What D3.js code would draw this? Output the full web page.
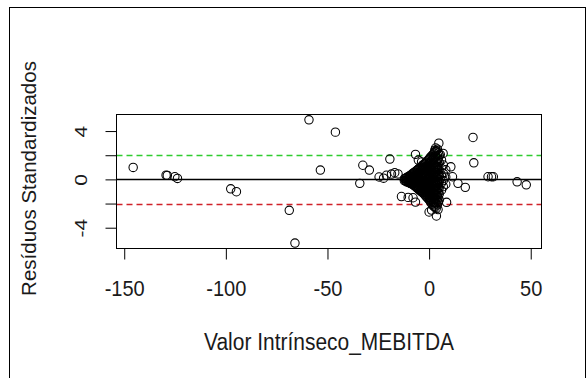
<!DOCTYPE html>
<html><head><meta charset="utf-8">
<script src="https://cdn.jsdelivr.net/npm/d3@7"></script>
<style>
body{margin:0;background:#fff}
text{font-family:"Liberation Sans",Arial,sans-serif;fill:#1a1a1a}
</style>
</head><body>
<svg id="chart" width="588" height="378"></svg>
<script>
// ---- data ----
const xTicks = [-150, -100, -50, 0, 50];
const xTickLabels = ["-150", "-100", "-50", "0", "50"];
const yTicks = [-4, -2, 0, 2, 4];
const yTickLabels = ["-4", "", "0", "", "4"];
const xLabel = "Valor Intrínseco_MEBITDA";
const yLabel = "Resíduos Standardizados";
const refLevels = [0, 2, -2];
const refColors = ["#000000", "#2fcc2f", "#d0222a"];

const fitted = [
  -145.6, -129.4, -128.8, -125.1, -123.8, -97.6, -94.8, -68.8, -66.0, -59.1,
  -46.1, -53.5, -34.1, -32.6, -29.4, -19.3, -24.6, -22.4, -21.0, -18.5,
  -16.9, -15.3, -13.6, -7.9, -6.7, -6.7, 4.8, 21.6, 22.0, 10.7,
  11.5, 14.2, 17.8, 8.6, 0.0, 3.6, 4.4, 29.0, 30.7, 31.6,
  43.3, 47.8, -10.3, 2.8, 6.9, 1.2, -3.7, -5.3, 3.2, 5.5,
  -12.2, -12.2,
  -11.1, -11.1, -11.1,
  -10.0, -10.0, -10.0,
  -9.1, -9.1, -9.1, -9.1,
  -8.0, -8.0, -8.0, -8.0,
  -7.1, -7.1, -7.1, -7.1, -7.1,
  -6.0, -6.0, -6.0, -6.0, -6.0, -6.0,
  -5.1, -5.1, -5.1, -5.1, -5.1, -5.1, -5.1,
  -4.0, -4.0, -4.0, -4.0, -4.0, -4.0, -4.0, -4.0,
  -3.1, -3.1, -3.1, -3.1, -3.1, -3.1, -3.1, -3.1,
  -2.0, -2.0, -2.0, -2.0, -2.0, -2.0, -2.0, -2.0, -2.0,
  -1.0, -1.0, -1.0, -1.0, -1.0, -1.0, -1.0, -1.0, -1.0, -1.0,
  0.1, 0.1, 0.1, 0.1, 0.1, 0.1, 0.1, 0.1, 0.1, 0.1, 0.1,
  1.0, 1.0, 1.0, 1.0, 1.0, 1.0, 1.0, 1.0, 1.0, 1.0, 1.0, 1.0,
  2.1, 2.1, 2.1, 2.1, 2.1, 2.1, 2.1, 2.1, 2.1, 2.1, 2.1, 2.1, 2.1,
  3.0, 3.0, 3.0, 3.0, 3.0, 3.0, 3.0, 3.0, 3.0, 3.0, 3.0, 3.0, 3.0,
  4.1, 4.1, 4.1, 4.1, 4.1, 4.1, 4.1, 4.1, 4.1, 4.1, 4.1, 4.1,
  5.0, 5.0, 5.0, 5.0, 5.0, 5.0, 5.0, 5.0,
  6.1, 6.1, 6.1, 6.1, 6.1,
  7.0, 7.0, 7.0, 7.0,
  8.2, 8.2, 8.2,
  -11.6, -11.6,
  -10.5, -10.5, -10.5,
  -9.5, -9.5, -9.5, -9.5,
  -8.5, -8.5, -8.5, -8.5,
  -7.5, -7.5, -7.5, -7.5, -7.5,
  -6.5, -6.5, -6.5, -6.5, -6.5, -6.5,
  -5.5, -5.5, -5.5, -5.5, -5.5, -5.5,
  -4.5, -4.5, -4.5, -4.5, -4.5, -4.5, -4.5,
  -3.5, -3.5, -3.5, -3.5, -3.5, -3.5, -3.5, -3.5,
  -2.5, -2.5, -2.5, -2.5, -2.5, -2.5, -2.5, -2.5,
  -1.5, -1.5, -1.5, -1.5, -1.5, -1.5, -1.5, -1.5, -1.5,
  -0.5, -0.5, -0.5, -0.5, -0.5, -0.5, -0.5, -0.5, -0.5, -0.5,
  0.5, 0.5, 0.5, 0.5, 0.5, 0.5, 0.5, 0.5, 0.5, 0.5, 0.5,
  1.5, 1.5, 1.5, 1.5, 1.5, 1.5, 1.5, 1.5, 1.5, 1.5, 1.5, 1.5,
  2.5, 2.5, 2.5, 2.5, 2.5, 2.5, 2.5, 2.5, 2.5, 2.5, 2.5, 2.5, 2.5,
  3.5, 3.5, 3.5, 3.5, 3.5, 3.5, 3.5, 3.5, 3.5, 3.5, 3.5, 3.5, 3.5,
  4.5, 4.5, 4.5, 4.5, 4.5, 4.5, 4.5, 4.5, 4.5, 4.5, 4.5
];
const residuals = [
  0.99, 0.35, 0.33, 0.22, 0.08, -0.78, -1.02, -2.56, -5.27, 4.93,
  3.91, 0.77, -0.33, 1.17, 0.77, 1.68, 0.20, 0.10, 0.34, 0.44,
  0.55, 0.45, -1.42, -1.52, -1.88, 2.07, 3.00, 3.47, 1.37, 1.04,
  0.22, -0.33, -0.66, -1.90, -2.70, -3.03, -2.50, 0.22, 0.22, 0.22,
  -0.20, -0.45, -1.49, 2.42, 2.15, -2.54, 1.45, 1.60, 2.60, 2.05,
  0.05, -0.10,
  0.15, -0.05, -0.20,
  0.25, 0.00, -0.25,
  0.35, 0.10, -0.15, -0.35,
  0.50, 0.20, -0.10, -0.40,
  0.60, 0.30, 0.00, -0.30, -0.55,
  0.75, 0.40, 0.10, -0.20, -0.50, -0.70,
  0.90, 0.55, 0.20, -0.10, -0.40, -0.70, -0.85,
  1.00, 0.70, 0.35, 0.00, -0.30, -0.60, -0.90, -1.00,
  1.20, 0.85, 0.50, 0.15, -0.20, -0.50, -0.80, -1.10,
  1.30, 1.00, 0.60, 0.25, -0.10, -0.45, -0.80, -1.10, -1.30,
  1.50, 1.10, 0.70, 0.30, 0.00, -0.35, -0.70, -1.00, -1.30, -1.50,
  1.70, 1.30, 0.90, 0.50, 0.15, -0.20, -0.55, -0.90, -1.20, -1.50, -1.70,
  1.90, 1.50, 1.10, 0.70, 0.30, -0.05, -0.40, -0.75, -1.10, -1.40, -1.70, -1.95,
  2.10, 1.70, 1.30, 0.90, 0.50, 0.10, -0.25, -0.60, -0.95, -1.30, -1.60, -1.90, -2.20,
  2.30, 1.85, 1.40, 1.00, 0.60, 0.20, -0.20, -0.55, -0.90, -1.25, -1.60, -1.90, -2.30,
  2.50, 2.00, 1.50, 1.05, 0.60, 0.20, -0.15, -0.50, -0.90, -1.30, -1.70, -2.10,
  2.00, 1.40, 0.80, 0.30, -0.20, -0.70, -1.20, -1.70,
  1.60, 0.90, 0.30, -0.30, -0.90,
  1.20, 0.50, -0.10, -0.60,
  0.80, 0.20, -0.40,
  0.08, -0.12,
  0.20, -0.02, -0.22,
  0.30, 0.05, -0.20, -0.30,
  0.42, 0.15, -0.15, -0.38,
  0.55, 0.25, -0.05, -0.35, -0.50,
  0.68, 0.35, 0.05, -0.25, -0.55, -0.62,
  0.82, 0.48, 0.15, -0.15, -0.45, -0.75,
  0.95, 0.62, 0.28, -0.05, -0.35, -0.65, -0.92,
  1.10, 0.75, 0.42, 0.08, -0.25, -0.58, -0.90, -1.05,
  1.25, 0.92, 0.55, 0.20, -0.15, -0.50, -0.85, -1.20,
  1.40, 1.05, 0.65, 0.28, -0.05, -0.40, -0.75, -1.05, -1.40,
  1.60, 1.20, 0.80, 0.40, 0.05, -0.30, -0.65, -0.95, -1.25, -1.60,
  1.80, 1.40, 1.00, 0.60, 0.22, -0.12, -0.48, -0.82, -1.15, -1.45, -1.80,
  2.00, 1.60, 1.20, 0.80, 0.40, 0.02, -0.32, -0.68, -1.02, -1.35, -1.65, -2.05,
  2.20, 1.78, 1.35, 0.95, 0.55, 0.15, -0.22, -0.58, -0.92, -1.28, -1.62, -1.95, -2.25,
  2.40, 1.92, 1.45, 1.02, 0.60, 0.20, -0.18, -0.52, -0.90, -1.28, -1.65, -2.00, -2.40,
  2.20, 1.70, 1.25, 0.80, 0.40, 0.00, -0.35, -0.70, -1.10, -1.50, -1.90
];

// ---- layout ----
const svg = d3.select("#chart");
const L = 116.5, R = 541.5, T = 114.5, B = 248.5;
const x = d3.scaleLinear().domain([-153.8, 55.3]).range([L, R]);
const y = d3.scaleLinear().domain([-5.72, 5.37]).range([B, T]);

// outer figure border
svg.append("rect").attr("x", 9.5).attr("y", 7.5).attr("width", 576).attr("height", 380)
  .attr("fill", "none").attr("stroke", "#000").attr("stroke-width", 1);

// reference lines
svg.append("g").selectAll("line").data(refLevels).join("line")
  .attr("x1", L).attr("x2", R)
  .attr("y1", d => Math.round(y(d)) + 0.5).attr("y2", d => Math.round(y(d)) + 0.5)
  .attr("stroke", (d, i) => refColors[i])
  .attr("stroke-width", 1.3)
  .attr("stroke-dasharray", d => d === 0 ? null : "6,4");

// points
svg.append("g").selectAll("circle").data(fitted.map((f, i) => [f, residuals[i]])).join("circle")
  .attr("cx", d => x(d[0])).attr("cy", d => y(d[1])).attr("r", 4.2)
  .attr("fill", "none").attr("stroke", "#000").attr("stroke-width", 1.05);

// plot box
svg.append("rect").attr("x", L).attr("y", T).attr("width", R - L).attr("height", B - T)
  .attr("fill", "none").attr("stroke", "#000").attr("stroke-width", 1);

// x axis
const xAxis = d3.axisBottom(x).tickValues(xTicks).tickSize(11).tickPadding(0)
  .tickFormat((d, i) => xTickLabels[i]);
const gx = svg.append("g").attr("transform", `translate(0,${B})`).call(xAxis);
gx.select(".domain").remove();
gx.selectAll(".tick line").attr("stroke", "#000");
gx.selectAll(".tick text").attr("y", 0).attr("dy", null)
  .attr("font-size", 22).attr("fill", "#1a1a1a")
  .attr("transform", "translate(0,47) scale(0.91,1)");
svg.append("line").attr("x1", x(-150)).attr("x2", x(50)).attr("y1", B).attr("y2", B).attr("stroke", "#000");

// y axis
const yAxis = d3.axisLeft(y).tickValues(yTicks).tickSize(11).tickPadding(0)
  .tickFormat((d, i) => yTickLabels[i]);
const gy = svg.append("g").attr("transform", `translate(${L},0)`).call(yAxis);
gy.select(".domain").remove();
gy.selectAll(".tick line").attr("stroke", "#000");
gy.selectAll(".tick text").attr("x", 0).attr("dy", null)
  .attr("font-size", 21).attr("text-anchor", "middle").attr("fill", "#1a1a1a")
  .attr("transform", "translate(-29.5,0) scale(0.82,1) rotate(-90)");

// axis titles
svg.append("text").attr("x", (L + R) / 2).attr("y", 350).attr("text-anchor", "middle")
  .attr("font-size", 23).attr("textLength", 250).attr("lengthAdjust", "spacingAndGlyphs")
  .text(xLabel);
svg.append("text").attr("transform", `translate(35.5,${(T + B) / 2 - 3}) rotate(-90)`)
  .attr("text-anchor", "middle").attr("font-size", 20.5)
  .text(yLabel);
</script>
</body></html>
